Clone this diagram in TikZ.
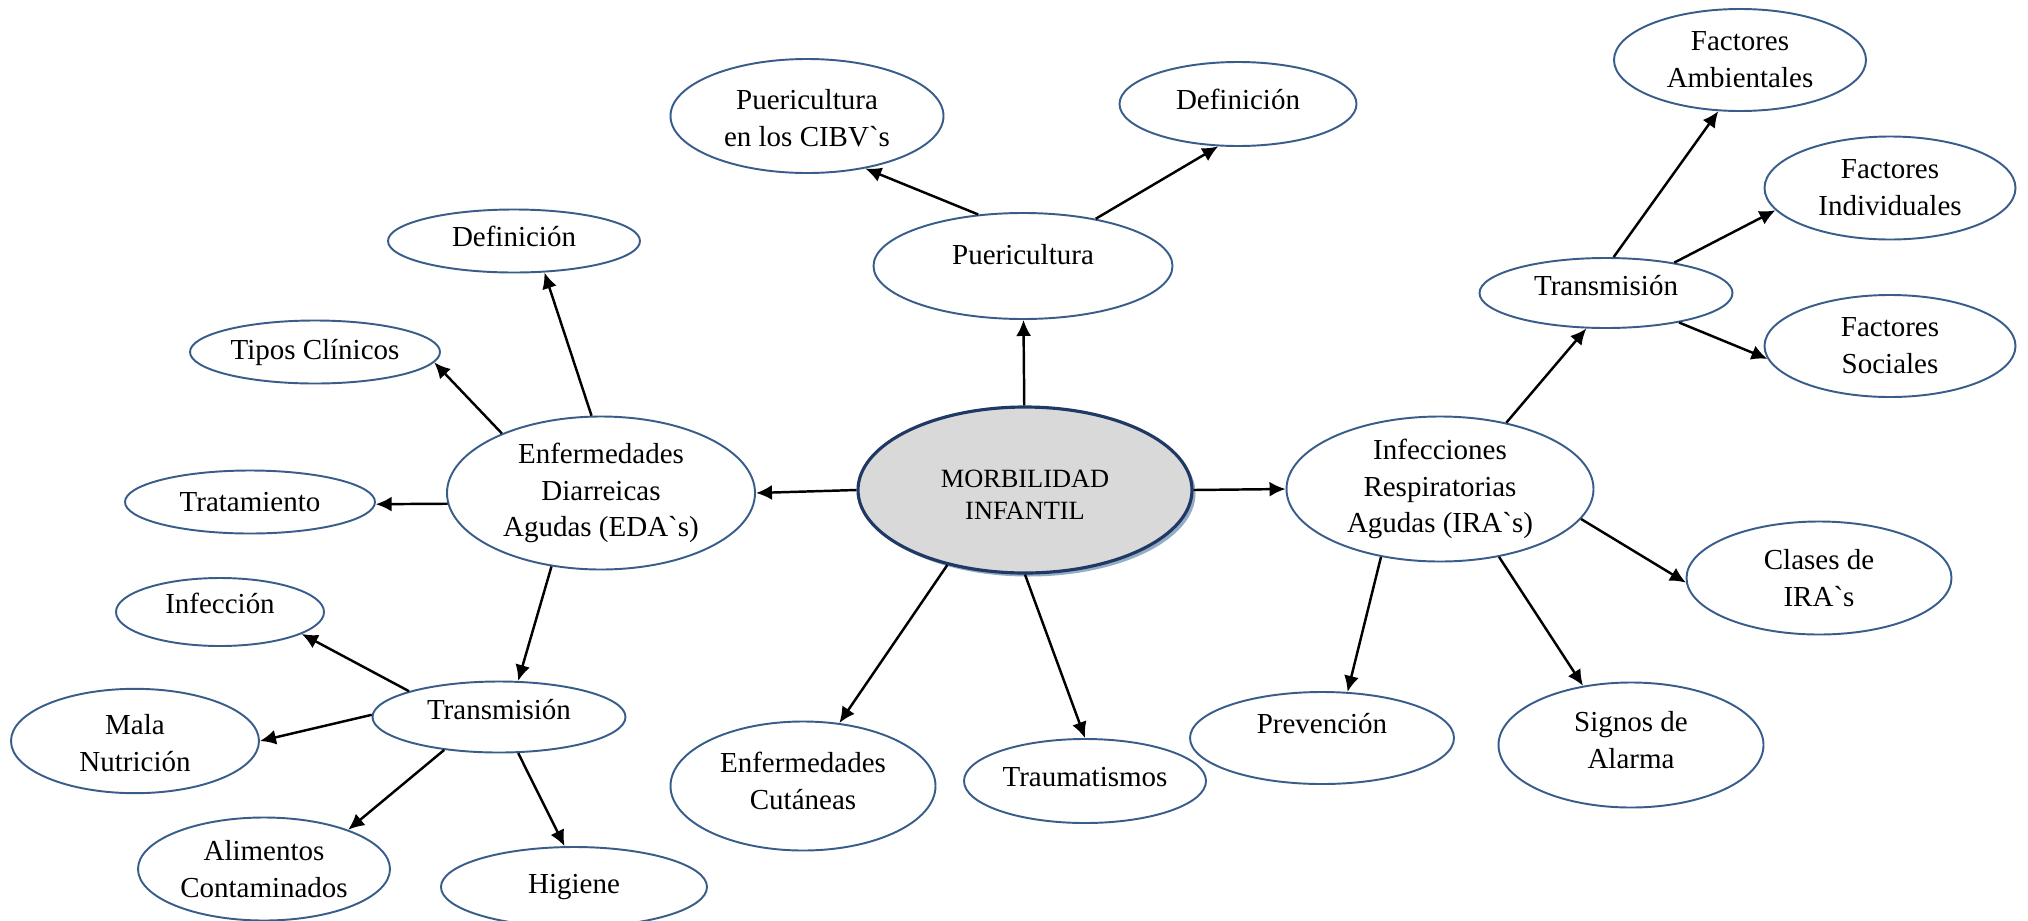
\documentclass[tikz,border=0pt]{standalone}
\usepackage{fontspec}
\setmainfont{Liberation Serif}
\usepackage{tikz}
\usetikzlibrary{arrows.meta,shapes.geometric,shadows}
\definecolor{EllBlue}{RGB}{56,93,138}
\definecolor{MainBlue}{RGB}{31,56,100}
\definecolor{MainFill}{RGB}{217,217,217}
\definecolor{ShadowBlue}{RGB}{130,158,186}
% text lifted inside its ellipse
\newcommand{\TxtUp}[2]{\raisebox{#1}[\height][\depth]{\begin{tabular}{@{}c@{}}#2\end{tabular}}}

\begin{document}
\begin{tikzpicture}[
		x=0.02cm, y=-0.02cm,
		EllSize/.style 2 args={minimum width=#1*0.02cm, minimum height=#2*0.02cm},
		MyEllipse/.style={ellipse, draw=EllBlue, line width=1.1pt, inner sep=0pt, align=center, font=\fontsize{16.5}{21}\selectfont},
		MainEllipse/.style={ellipse, draw=MainBlue, fill=MainFill, line width=1.8pt, inner sep=0pt, align=center, font=\fontsize{15}{18.5}\selectfont,
			drop shadow={shadow xshift=0.07cm, shadow yshift=-0.07cm, fill=ShadowBlue, opacity=0.85}},
		MyArrow/.style={-{Latex[length=3.2mm, width=3mm]}, line width=1.4pt, black}
		]
		\fill[white] (0,0) rectangle (2028,920);
		\useasboundingbox (0,0) rectangle (2028,920);
		
		% centre
		\node[MainEllipse, EllSize={334}{166}] (morb) at (1025,490) {\TxtUp{-4pt}{MORBILIDAD\\INFANTIL}};
		
		% puericultura
		\node[MyEllipse, EllSize={299}{106}] (puer) at (1023,266) {\TxtUp{5pt}{Puericultura}};
		\node[MyEllipse, EllSize={273}{114}] (cibv) at (807,116) {\TxtUp{-2.5pt}{Puericultura\\en los CIBV\textasciigrave s}};
		\node[MyEllipse, EllSize={237}{84}] (defT) at (1238,104) {\TxtUp{1pt}{Definición}};
		
		% IRA
		\node[MyEllipse, EllSize={307}{145}] (ira) at (1440,489) {Infecciones\\Respiratorias\\Agudas (IRA\textasciigrave s)};
		\node[MyEllipse, EllSize={253}{70}] (trR) at (1606,293) {\TxtUp{3pt}{Transmisión}};
		\node[MyEllipse, EllSize={252}{102}] (fa) at (1740,60) {Factores\\Ambientales};
		\node[MyEllipse, EllSize={251}{103}] (fi) at (1890,188) {Factores\\Individuales};
		\node[MyEllipse, EllSize={251}{102}] (fs) at (1890,346) {Factores\\Sociales};
		\node[MyEllipse, EllSize={265}{113}] (clases) at (1819,578) {Clases de\\IRA\textasciigrave s};
		\node[MyEllipse, EllSize={265}{125}] (signos) at (1631,745) {\TxtUp{1.5pt}{Signos de\\Alarma}};
		\node[MyEllipse, EllSize={264}{92}] (prev) at (1322,738) {\TxtUp{7pt}{Prevención}};
		
		% bottom
		\node[MyEllipse, EllSize={242}{84}] (traum) at (1085,781) {\TxtUp{1pt}{Traumatismos}};
		\node[MyEllipse, EllSize={265}{129}] (cut) at (803,786) {\TxtUp{1.5pt}{Enfermedades\\Cutáneas}};
		
		% EDA
		\node[MyEllipse, EllSize={308}{153}] (eda) at (601,493) {Enfermedades\\Diarreicas\\Agudas (EDA\textasciigrave s)};
		\node[MyEllipse, EllSize={252}{63}] (defL) at (514,241) {\TxtUp{1pt}{Definición}};
		\node[MyEllipse, EllSize={250}{63}] (tipos) at (315,352) {Tipos Clínicos};
		\node[MyEllipse, EllSize={250}{63}] (trat) at (250,502) {Tratamiento};
		\node[MyEllipse, EllSize={253}{71}] (trL) at (499,717) {\TxtUp{3pt}{Transmisión}};
		\node[MyEllipse, EllSize={208}{68}] (inf) at (220,612) {\TxtUp{3.5pt}{Infección}};
		\node[MyEllipse, EllSize={248}{100}] (mala) at (135,741) {\TxtUp{-2.5pt}{Mala\\Nutrición}};
		\node[MyEllipse, EllSize={252}{103}] (alim) at (264,869) {Alimentos\\Contaminados};
		\node[MyEllipse, EllSize={266}{80}] (hig) at (574,887) {Higiene};
		
		% arrows
		\draw[MyArrow] (morb) -- (puer);
		\draw[MyArrow] (puer.131) -- (cibv.318);
		\draw[MyArrow] (puer.33) -- (defT.245);
		\draw[MyArrow] (morb.west) -- (eda.east);
		\draw[MyArrow] (morb.east) -- (ira.west);
		\draw[MyArrow] (morb.224) -- (cut.60);
		\draw[MyArrow] (morb.south) -- (traum.north);
		
		\draw[MyArrow] (ira.45) -- (trR.241);
		\draw[MyArrow] (trR.78) -- (fa.247);
		\draw[MyArrow] (trR.24) -- (fi.191);
		\draw[MyArrow] (trR.338) -- (fs.186);
		\draw[MyArrow] (ira.348) -- (clases.182);
		\draw[MyArrow] (ira.311) -- (signos.129);
		\draw[MyArrow] (ira.229) -- (prev.61);
		
		\draw[MyArrow] (eda.97) -- (defL.314);
		\draw[MyArrow] (eda.149) -- (tipos.355);
		\draw[MyArrow] (eda.184) -- (trat.359);
		\draw[MyArrow] (eda.236) -- (trL.62);
		\draw[MyArrow] (trL.164) -- (inf.345);
		\draw[MyArrow] (trL.179) -- (mala.east);
		\draw[MyArrow] (trL.211) -- (alim.25);
		\draw[MyArrow] (trL.298) -- (hig.103);
		
\end{tikzpicture}
\end{document}
